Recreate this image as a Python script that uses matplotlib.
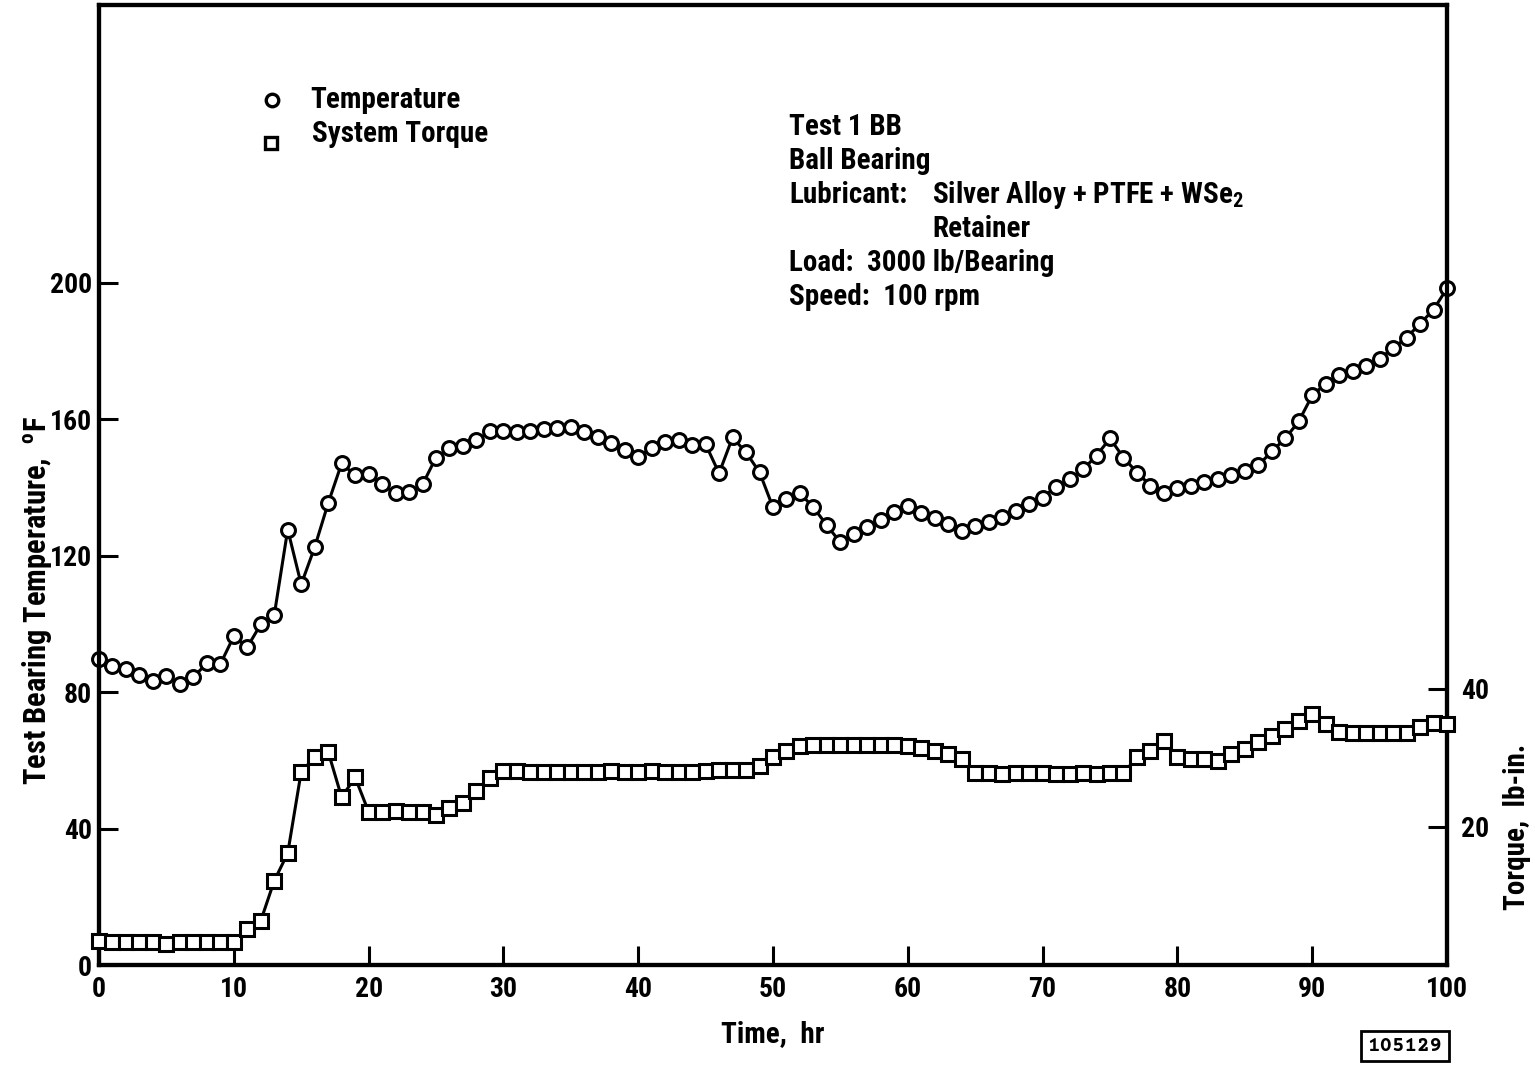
import numpy as np
import matplotlib
matplotlib.use('Agg')
import matplotlib.pyplot as plt

plt.rcParams['font.family'] = ['Roboto Condensed', 'DejaVu Sans']
plt.rcParams['font.weight'] = 'bold'
plt.rcParams['axes.labelweight'] = 'bold'
plt.rcParams['mathtext.default'] = 'regular'

# test data, one reading per hour
hours = np.arange(0, 101)
temperature = [89.7, 87.6, 86.7, 85.0, 83.2, 84.7, 82.3, 84.4, 88.5, 88.2,
               96.4, 93.2, 99.9, 102.6, 127.7, 111.6, 122.5, 135.4, 147.1, 143.6,
               143.9, 140.9, 138.3, 138.6, 140.9, 148.8, 151.5, 152.1, 153.8, 156.5,
               156.5, 156.2, 156.5, 157.3, 157.6, 157.9, 156.2, 154.7, 153.0, 150.9,
               149.1, 151.5, 153.5, 153.8, 152.4, 152.7, 144.2, 154.7, 150.3, 144.5,
               134.2, 136.5, 138.3, 134.2, 128.9, 123.9, 126.3, 128.3, 130.4, 132.7,
               134.5, 132.4, 131.0, 129.2, 127.2, 128.6, 130.0, 131.3, 133.0, 135.3,
               137.0, 140.3, 142.4, 145.3, 149.4, 154.4, 148.8, 144.4, 140.6, 138.3,
               139.8, 140.6, 141.5, 142.4, 143.6, 145.0, 146.5, 150.6, 154.4, 159.4,
               167.0, 170.5, 172.9, 174.3, 175.5, 177.8, 180.8, 184.0, 188.0, 192.2,
               198.4]
torque = [3.5, 3.4, 3.3, 3.3, 3.3, 3.1, 3.3, 3.4, 3.3, 3.3,
          3.3, 5.2, 6.4, 12.2, 16.2, 28.0, 30.1, 30.9, 24.3, 27.2,
          22.2, 22.2, 22.3, 22.2, 22.2, 21.7, 22.7, 23.5, 25.2, 27.1,
          28.1, 28.1, 28.0, 28.0, 28.0, 27.9, 28.0, 28.0, 28.1, 28.0,
          28.0, 28.1, 28.0, 27.9, 28.0, 28.1, 28.2, 28.2, 28.3, 28.8,
          30.1, 31.0, 31.7, 31.9, 31.9, 31.9, 31.9, 31.9, 31.9, 31.9,
          31.7, 31.4, 31.0, 30.6, 29.9, 27.8, 27.8, 27.7, 27.8, 27.8,
          27.8, 27.7, 27.7, 27.8, 27.7, 27.8, 27.8, 30.1, 31.0, 32.5,
          30.1, 29.9, 29.9, 29.6, 30.6, 31.3, 32.3, 33.2, 34.2, 35.4,
          36.4, 34.9, 33.8, 33.6, 33.6, 33.6, 33.6, 33.6, 34.5, 35.1,
          34.9]
temp_ticks = [0, 40, 80, 120, 160, 200]
torque_ticks = [20, 40]
time_ticks = [0, 10, 20, 30, 40, 50, 60, 70, 80, 90, 100]

W, H = 1535, 1070
fig = plt.figure(figsize=(W / 100, H / 100), dpi=100)
ax = fig.add_axes([99 / W, 1 - 965 / H, 1348 / W, 960 / H])
ax2 = ax.twinx()

lw = 2.2
ax.plot(hours, temperature, '-o', color='black', lw=lw, ms=10,
        mfc='white', mec='black', mew=2.2, zorder=3, clip_on=False)
ax2.plot(hours, torque, '-s', color='black', lw=lw, ms=10,
         mfc='white', mec='black', mew=2.2, zorder=3, clip_on=False)

ax.set_xlim(0, 100)
ax.set_ylim(0, 281.5)
ax2.set_ylim(0, 139.1)

ax.set_xticks(time_ticks)
ax.set_yticks(temp_ticks)
ax2.set_yticks(torque_ticks)
ax.tick_params(axis='both', direction='in', length=14, width=2.2,
               labelsize=20)
ax.tick_params(axis='y', pad=5)
ax.tick_params(axis='x', pad=8)
ax2.tick_params(axis='y', direction='in', length=14, width=2.2,
                labelsize=20, pad=10)
for a in (ax, ax2):
    for s in a.spines.values():
        s.set_linewidth(3)

ax.set_xlabel('Time,  hr', fontsize=21)
ax.xaxis.set_label_coords(0.5, -0.057)
ax.set_ylabel('Test Bearing Temperature,  $^{o}$F', fontsize=22, va='center')
ax.yaxis.set_label_coords(-0.046, 0.38)
ax2.set_ylabel('Torque,  lb-in.', fontsize=21, va='center')
ax2.yaxis.set_label_coords(1.052, 0.144)


def ftext(px, py, s, **kw):
    fig.text(px / W, 1 - py / H, s, va='center', **kw)


# legend
ax.plot([(272 - 99) / 1348], [(965 - 100) / 960], 'o', transform=ax.transAxes,
        ms=9, mfc='white', mec='black', mew=2.4, clip_on=False)
ax.plot([(271 - 99) / 1348], [(965 - 143) / 960], 's', transform=ax.transAxes,
        ms=9, mfc='white', mec='black', mew=2.4, clip_on=False)
ftext(310, 100, 'Temperature', fontsize=21)
ftext(312, 134, 'System Torque', fontsize=21)

# test conditions
fs = 21
ftext(789, 127, 'Test 1 BB', fontsize=fs)
ftext(789, 161, 'Ball Bearing', fontsize=fs)
ftext(789, 195, 'Lubricant:', fontsize=fs)
ftext(932, 195, 'Silver Alloy + PTFE + WSe$_{2}$', fontsize=fs)
ftext(932, 229, 'Retainer', fontsize=fs)
ftext(789, 263, 'Load:  3000 lb/Bearing', fontsize=fs)
ftext(789, 297, 'Speed:  100 rpm', fontsize=fs)

fig.text(1405 / W, 1 - 1046 / H, '105129', fontsize=15,
         family=['Courier Prime', 'Liberation Mono'], weight='bold',
         ha='center', va='center',
         bbox=dict(boxstyle='square,pad=0.3', fc='white', ec='black', lw=2))

fig.savefig('out.png', dpi=100)
